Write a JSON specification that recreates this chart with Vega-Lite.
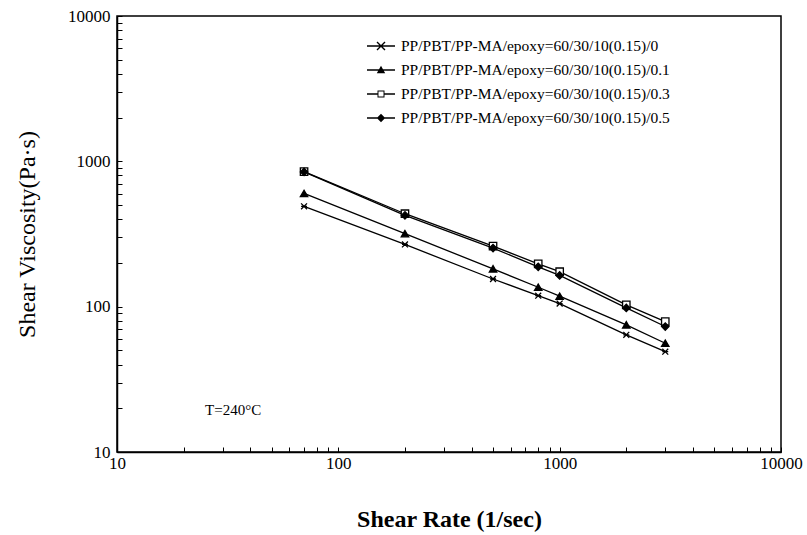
{
  "$schema": "https://vega.github.io/schema/vega-lite/v6.json",
  "width": 664,
  "height": 436,
  "autosize": {"type": "none"},
  "padding": {"left": 117, "top": 16, "right": 26, "bottom": 83},
  "background": "white",
  "config": {
    "font": "Liberation Serif",
    "view": {"stroke": "black", "strokeWidth": 1.5},
    "axis": {
      "grid": false,
      "domainColor": "black",
      "domainWidth": 1.5,
      "tickColor": "black",
      "tickSize": -5,
      "labelColor": "black",
      "titleColor": "black"
    }
  },
  "datasets": {
    "pts": [
      {"s": "PP/PBT/PP-MA/epoxy=60/30/10(0.15)/0", "rate": 70, "visc": 490},
      {"s": "PP/PBT/PP-MA/epoxy=60/30/10(0.15)/0", "rate": 200, "visc": 268},
      {"s": "PP/PBT/PP-MA/epoxy=60/30/10(0.15)/0", "rate": 500, "visc": 155},
      {"s": "PP/PBT/PP-MA/epoxy=60/30/10(0.15)/0", "rate": 800, "visc": 119},
      {"s": "PP/PBT/PP-MA/epoxy=60/30/10(0.15)/0", "rate": 1000, "visc": 105},
      {"s": "PP/PBT/PP-MA/epoxy=60/30/10(0.15)/0", "rate": 2000, "visc": 64},
      {"s": "PP/PBT/PP-MA/epoxy=60/30/10(0.15)/0", "rate": 3000, "visc": 49},
      {"s": "PP/PBT/PP-MA/epoxy=60/30/10(0.15)/0.1", "rate": 70, "visc": 601},
      {"s": "PP/PBT/PP-MA/epoxy=60/30/10(0.15)/0.1", "rate": 200, "visc": 318},
      {"s": "PP/PBT/PP-MA/epoxy=60/30/10(0.15)/0.1", "rate": 500, "visc": 182},
      {"s": "PP/PBT/PP-MA/epoxy=60/30/10(0.15)/0.1", "rate": 800, "visc": 136},
      {"s": "PP/PBT/PP-MA/epoxy=60/30/10(0.15)/0.1", "rate": 1000, "visc": 118},
      {"s": "PP/PBT/PP-MA/epoxy=60/30/10(0.15)/0.1", "rate": 2000, "visc": 75},
      {"s": "PP/PBT/PP-MA/epoxy=60/30/10(0.15)/0.1", "rate": 3000, "visc": 56},
      {"s": "PP/PBT/PP-MA/epoxy=60/30/10(0.15)/0.3", "rate": 70, "visc": 850},
      {"s": "PP/PBT/PP-MA/epoxy=60/30/10(0.15)/0.3", "rate": 200, "visc": 436},
      {"s": "PP/PBT/PP-MA/epoxy=60/30/10(0.15)/0.3", "rate": 500, "visc": 261},
      {"s": "PP/PBT/PP-MA/epoxy=60/30/10(0.15)/0.3", "rate": 800, "visc": 197},
      {"s": "PP/PBT/PP-MA/epoxy=60/30/10(0.15)/0.3", "rate": 1000, "visc": 174},
      {"s": "PP/PBT/PP-MA/epoxy=60/30/10(0.15)/0.3", "rate": 2000, "visc": 103},
      {"s": "PP/PBT/PP-MA/epoxy=60/30/10(0.15)/0.3", "rate": 3000, "visc": 79},
      {"s": "PP/PBT/PP-MA/epoxy=60/30/10(0.15)/0.5", "rate": 70, "visc": 845},
      {"s": "PP/PBT/PP-MA/epoxy=60/30/10(0.15)/0.5", "rate": 200, "visc": 425},
      {"s": "PP/PBT/PP-MA/epoxy=60/30/10(0.15)/0.5", "rate": 500, "visc": 253},
      {"s": "PP/PBT/PP-MA/epoxy=60/30/10(0.15)/0.5", "rate": 800, "visc": 188},
      {"s": "PP/PBT/PP-MA/epoxy=60/30/10(0.15)/0.5", "rate": 1000, "visc": 164},
      {"s": "PP/PBT/PP-MA/epoxy=60/30/10(0.15)/0.5", "rate": 2000, "visc": 98},
      {"s": "PP/PBT/PP-MA/epoxy=60/30/10(0.15)/0.5", "rate": 3000, "visc": 73}
    ],
    "note": [{"rate": 25, "visc": 19.5, "label": "T=240°C"}]
  },
  "encoding": {
    "x": {
      "field": "rate", "type": "quantitative",
      "scale": {"type": "log", "domain": [10, 10000], "nice": false},
      "axis": {
        "title": "Shear Rate (1/sec)",
        "titleFont": "Liberation Serif",
        "titleFontSize": 24, "titleFontWeight": "bold", "titlePadding": 36,
        "values": [10,20,30,40,50,60,70,80,90,100,200,300,400,500,600,700,800,900,1000,2000,3000,4000,5000,6000,7000,8000,9000,10000],
        "format": "d",
        "labelExpr": "indexof(['10','100','1000','10000'], datum.label) >= 0 ? datum.label : ''",
        "labelFont": "Liberation Serif",
        "labelFontSize": 17,
        "labelPadding": 8,
        "labelFlush": false
      }
    },
    "y": {
      "field": "visc", "type": "quantitative",
      "scale": {"type": "log", "domain": [10, 10000], "nice": false},
      "axis": {
        "title": "Shear Viscosity(Pa·s)",
        "titleFont": "Liberation Serif",
        "titleFontSize": 24, "titleFontWeight": "normal", "titlePadding": 28,
        "values": [10,20,30,40,50,60,70,80,90,100,200,300,400,500,600,700,800,900,1000,2000,3000,4000,5000,6000,7000,8000,9000,10000],
        "format": "d",
        "labelExpr": "indexof(['10','100','1000','10000'], datum.label) >= 0 ? datum.label : ''",
        "labelFont": "Liberation Serif",
        "labelFontSize": 17,
        "labelPadding": 12,
        "labelFlush": false
      }
    }
  },
  "resolve": {"scale": {"shape": "independent"}, "legend": {"shape": "independent"}},
  "layer": [
    {
      "data": {"name": "pts"},
      "mark": {"type": "line", "color": "black", "strokeWidth": 1.3},
      "encoding": {"detail": {"field": "s"}}
    },
    {
      "data": {"name": "pts"},
      "mark": {"type": "point", "stroke": "black", "strokeWidth": 1.3, "opacity": 1, "size": 55},
      "encoding": {
        "shape": {
          "field": "s", "type": "nominal",
          "scale": {
            "domain": ["PP/PBT/PP-MA/epoxy=60/30/10(0.15)/0", "PP/PBT/PP-MA/epoxy=60/30/10(0.15)/0.1", "PP/PBT/PP-MA/epoxy=60/30/10(0.15)/0.3", "PP/PBT/PP-MA/epoxy=60/30/10(0.15)/0.5"],
            "range": ["M-0.8,-0.8L0.8,0.8M-0.8,0.8L0.8,-0.8M-0.8,0H0.8", "triangle-up", "square", "diamond"]
          },
          "legend": null
        },
        "fill": {
          "field": "s", "type": "nominal",
          "scale": {
            "domain": ["PP/PBT/PP-MA/epoxy=60/30/10(0.15)/0", "PP/PBT/PP-MA/epoxy=60/30/10(0.15)/0.1", "PP/PBT/PP-MA/epoxy=60/30/10(0.15)/0.3", "PP/PBT/PP-MA/epoxy=60/30/10(0.15)/0.5"],
            "range": ["black", "black", "white", "black"]
          },
          "legend": null
        }
      }
    },
    {
      "data": {"name": "pts"},
      "mark": {"type": "point", "filled": true, "fill": "black", "opacity": 0, "size": 10},
      "encoding": {
        "shape": {
          "field": "s", "type": "nominal",
          "scale": {
            "domain": ["PP/PBT/PP-MA/epoxy=60/30/10(0.15)/0", "PP/PBT/PP-MA/epoxy=60/30/10(0.15)/0.1", "PP/PBT/PP-MA/epoxy=60/30/10(0.15)/0.3", "PP/PBT/PP-MA/epoxy=60/30/10(0.15)/0.5"],
            "range": [
              "M-0.32,-0.25L-0.25,-0.32L0.32,0.25L0.25,0.32ZM-0.32,0.25L0.25,-0.32L0.32,-0.25L-0.25,0.32ZM-1,-0.045H1V0.045H-1Z",
              "M0,-0.3L0.3,0.24L-0.3,0.24ZM-1,-0.045H1V0.045H-1Z",
              "M-0.25,-0.25H0.25V0.25H-0.25ZM-0.18,-0.18V0.18H0.18V-0.18ZM-1,-0.045H-0.25V0.045H-1ZM0.25,-0.045H1V0.045H0.25Z",
              "M0,-0.3L0.3,0L0,0.3L-0.3,0ZM-1,-0.045H1V0.045H-1Z"
            ]
          },
          "legend": {
            "orient": "none", "legendX": 249, "legendY": 15,
            "title": null,
            "labelFont": "Liberation Serif", "labelFontSize": 15.5, "labelColor": "black",
            "labelOffset": 5,
            "symbolSize": 784,
            "symbolOpacity": 1,
            "symbolFillColor": "black",
            "rowPadding": 0,
            "labelLimit": 400
          }
        }
      }
    },
    {
      "data": {"name": "note"},
      "mark": {"type": "text", "align": "left", "baseline": "middle", "font": "Liberation Serif", "fontSize": 15, "color": "black"},
      "encoding": {"text": {"field": "label"}}
    }
  ]
}
